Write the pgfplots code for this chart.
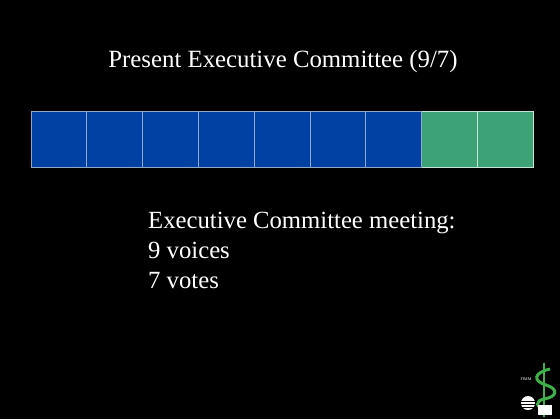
\documentclass[border=0pt]{standalone}
\usepackage{pgfplots}
\pgfplotsset{compat=1.18}
\usepackage{fontspec}
\setmainfont{Liberation Serif}
\definecolor{cblue}{HTML}{0041A3}
\definecolor{cgreen}{HTML}{3DA376}
\definecolor{cedge}{HTML}{8FA8C8}
\definecolor{logogreen}{HTML}{3DB04A}
\begin{document}
\begin{tikzpicture}[x=1bp,y=1bp]
\fill[black] (0,0) rectangle (560,419);
\useasboundingbox (0,0) rectangle (560,419);
\begin{axis}[
    at={(0,0)}, anchor=origin,
    scale only axis,
    width=560bp, height=419bp,
    xmin=0, xmax=560, ymin=0, ymax=419,
    hide axis,
    clip=false,
    xbar stacked,
    bar width=56,
    bar shift=0pt,
]
% offset from the left edge, then nine seats of equal width
\addplot[draw=none, fill=none] coordinates {(31,280)};
\addplot[fill=cblue, draw=cedge, line width=0.8pt] coordinates {(55.8,280)};
\addplot[fill=cblue, draw=cedge, line width=0.8pt] coordinates {(55.8,280)};
\addplot[fill=cblue, draw=cedge, line width=0.8pt] coordinates {(55.8,280)};
\addplot[fill=cblue, draw=cedge, line width=0.8pt] coordinates {(55.8,280)};
\addplot[fill=cblue, draw=cedge, line width=0.8pt] coordinates {(55.8,280)};
\addplot[fill=cblue, draw=cedge, line width=0.8pt] coordinates {(55.8,280)};
\addplot[fill=cblue, draw=cedge, line width=0.8pt] coordinates {(55.8,280)};
\addplot[fill=cgreen, draw=white!70!cgreen, line width=0.8pt] coordinates {(55.8,280)};
\addplot[fill=cgreen, draw=white!70!cgreen, line width=0.8pt] coordinates {(55.8,280)};

\node[white, anchor=base, font=\fontsize{24.8bp}{29bp}\selectfont]
  at (axis cs:283,351) {Present Executive Committee (9/7)};
\node[white, anchor=base west, inner sep=0pt, font=\fontsize{24.7bp}{29bp}\selectfont]
  at (axis cs:148,190) {Executive Committee meeting:};
\node[white, anchor=base west, inner sep=0pt, font=\fontsize{24.7bp}{29bp}\selectfont]
  at (axis cs:148,160) {9 voices};
\node[white, anchor=base west, inner sep=0pt, font=\fontsize{24.7bp}{29bp}\selectfont]
  at (axis cs:148,131) {7 votes};
\end{axis}
% small logo, bottom right
\node[white, font=\fontsize{4bp}{5bp}\selectfont, inner sep=0pt] at (526,40) {FIMM};
\draw[logogreen, line width=3pt] (550,50) .. controls (533,46) and (533,38) .. (546,34)
   .. controls (559,30) and (557,22) .. (544,20) .. controls (535,18) and (535,12) .. (547,8);
\draw[logogreen, line width=1.4pt] (544,56) -- (544,2);
\fill[white] (528,16) circle (7);
\foreach \yy in {12,15,18} \draw[black, line width=0.5pt] (521,\yy) -- (535,\yy);
\fill[white] (538,4) rectangle (552,14);
\end{tikzpicture}
\end{document}
